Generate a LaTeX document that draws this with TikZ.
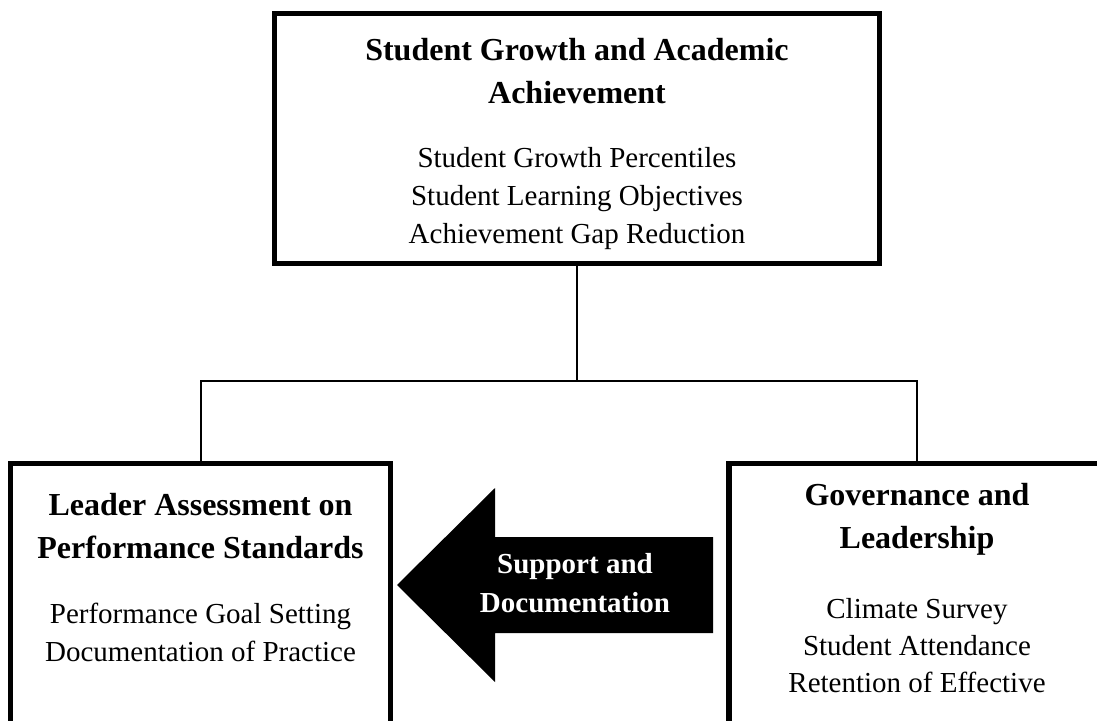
\documentclass[tikz,border=0pt]{standalone}
\usepackage{fontspec}
\setmainfont{Liberation Serif}
\usetikzlibrary{positioning}

\tikzset{
  panel/.style={draw, line width=2.75pt, inner sep=0pt},
  heading/.style={anchor=north, align=center, inner sep=0pt, font=\fontsize{16}{21.5}\selectfont\bfseries},
  items/.style={anchor=north, align=center, inner sep=0pt, font=\fontsize{14.5}{19}\selectfont},
  link/.style={line width=1pt}
}

\begin{document}
\begin{tikzpicture}[x=0.5pt,y=-0.5pt]
\clip (0,0) rectangle (1097,721);

% draw the three boxes
\node[panel, minimum width=302.5pt, minimum height=125pt] (growth) at (577,138.5) {};
\node[panel, minimum width=190pt, minimum height=160pt] (leader) at (200.5,623.5) {};
\node[panel, minimum width=188pt, minimum height=160pt] (gov) at (917,623.5) {};

% box texts
\node[heading] (growth title) at (577,38) {Student Growth and Academic\\Achievement};
\node[items] (growth list) at (577,147) {Student Growth Percentiles\\Student Learning Objectives\\Achievement Gap Reduction};

\node[heading] (leader title) at (200.5,493) {Leader Assessment on\\Performance Standards};
\node[items] (leader list) at (200.5,603) {Performance Goal Setting\\Documentation of Practice};

\node[heading] (gov title) at (917,483) {Governance and\\Leadership};
\node[items, font=\fontsize{14.5}{18.4}\selectfont] (gov list) at (917,598) {Climate Survey\\Student Attendance\\Retention of Effective};

% tree lines from the top box
\coordinate (bus) at (577,381);
\draw[link] (growth.south) -- (bus) -| (leader.north);
\draw[link] (bus) -| (gov.north);

% block arrow between the lower boxes
\fill (397,585) -- (495,488) -- (495,537) -- (713,537) -- (713,633) -- (495,633) -- (495,682) -- cycle;
\node[heading, text=white, font=\fontsize{14.5}{19.5}\selectfont\bfseries] (support) at (575,553) {Support and\\Documentation};

\end{tikzpicture}
\end{document}
